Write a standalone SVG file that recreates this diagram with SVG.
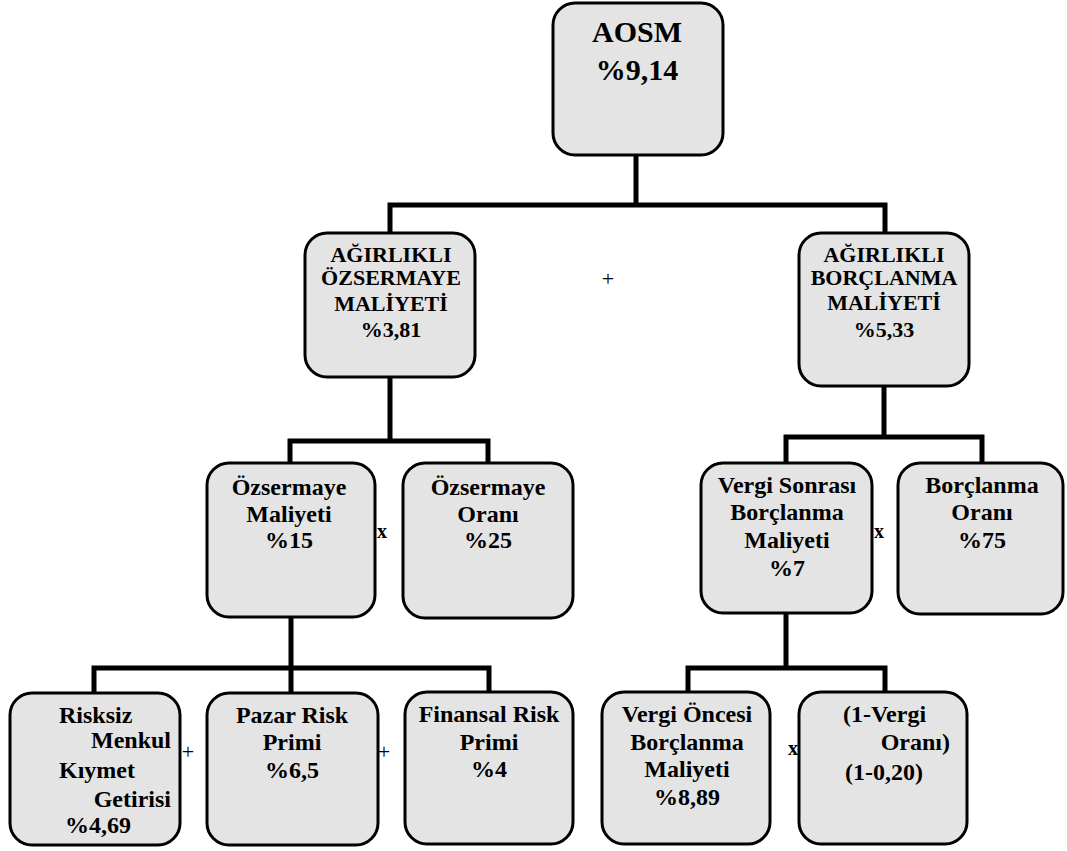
<svg xmlns="http://www.w3.org/2000/svg" width="1067" height="851" viewBox="0 0 1067 851">
<style>
.box{fill:#e4e4e4;stroke:#000;stroke-width:3}
.conn{fill:none;stroke:#000;stroke-width:5;stroke-linejoin:miter}
</style>
<rect width="1067" height="851" fill="#fff"/>
<g id="connectors">
<path class="conn" d="M636 155V205M390 233V205H885V233"/>
<path class="conn" d="M390 377V441M290 463V441H488V463"/>
<path class="conn" d="M884 386V437M786 463V437H982V463"/>
<path class="conn" d="M291 617V668M94 693V668H489V692M291 668V693"/>
<path class="conn" d="M786 613V668M688 692V668H885V692"/>
</g>
<g font-family="Liberation Serif, Times New Roman, serif" font-weight="bold" font-size="24" fill="#000" text-anchor="middle">
<g id="aosm">
<rect class="box" x="553" y="3" width="170" height="152" rx="22"/>
<text x="637" y="42" font-size="30">AOSM</text>
<text x="637" y="80" font-size="30">%9,14</text>
</g>
<g id="ozsermaye-agirlikli">
<rect class="box" x="305" y="233" width="170" height="144" rx="22"/>
<text x="391" y="262" font-size="22">AĞIRLIKLI</text>
<text x="391" y="285" font-size="22">ÖZSERMAYE</text>
<text x="391" y="311" font-size="22">MALİYETİ</text>
<text x="391" y="337" font-size="22">%3,81</text>
</g>
<g id="borclanma-agirlikli">
<rect class="box" x="799" y="233" width="170" height="153" rx="22"/>
<text x="884" y="262" font-size="22">AĞIRLIKLI</text>
<text x="884" y="285" font-size="22">BORÇLANMA</text>
<text x="884" y="310" font-size="22">MALİYETİ</text>
<text x="884" y="337" font-size="22">%5,33</text>
</g>
<text x="608" y="286" font-weight="normal" font-size="22">+</text>
<g id="ozsermaye-maliyeti">
<rect class="box" x="207" y="463" width="168" height="154" rx="22"/>
<text x="289" y="495">Özsermaye</text>
<text x="289" y="522">Maliyeti</text>
<text x="289" y="548">%15</text>
</g>
<text x="382" y="538" font-size="20">x</text>
<g id="ozsermaye-orani">
<rect class="box" x="403" y="463" width="170" height="155" rx="22"/>
<text x="488" y="495">Özsermaye</text>
<text x="488" y="522">Oranı</text>
<text x="488" y="548">%25</text>
</g>
<g id="vergi-sonrasi">
<rect class="box" x="701" y="463" width="171" height="150" rx="22"/>
<text x="787" y="493">Vergi Sonrası</text>
<text x="787" y="520">Borçlanma</text>
<text x="787" y="548">Maliyeti</text>
<text x="787" y="576">%7</text>
</g>
<text x="879" y="538" font-size="20">x</text>
<g id="borclanma-orani">
<rect class="box" x="898" y="463" width="165" height="151" rx="22"/>
<text x="982" y="493">Borçlanma</text>
<text x="982" y="520">Oranı</text>
<text x="982" y="548">%75</text>
</g>
<g id="risksiz">
<rect class="box" x="10" y="693" width="170" height="152" rx="22"/>
<text x="59" y="723" text-anchor="start">Risksiz</text>
<text x="171" y="748" text-anchor="end">Menkul</text>
<text x="59" y="778" text-anchor="start">Kıymet</text>
<text x="171" y="807" text-anchor="end">Getirisi</text>
<text x="65" y="833" text-anchor="start">%4,69</text>
</g>
<text x="188" y="759" font-weight="normal" font-size="22">+</text>
<g id="pazar-risk">
<rect class="box" x="207" y="693" width="171" height="152" rx="22"/>
<text x="292" y="723">Pazar Risk</text>
<text x="292" y="750">Primi</text>
<text x="292" y="778">%6,5</text>
</g>
<text x="384" y="759" font-weight="normal" font-size="22">+</text>
<g id="finansal-risk">
<rect class="box" x="405" y="692" width="168" height="152" rx="22"/>
<text x="489" y="722">Finansal Risk</text>
<text x="489" y="750">Primi</text>
<text x="489" y="777">%4</text>
</g>
<g id="vergi-oncesi">
<rect class="box" x="602" y="692" width="168" height="152" rx="22"/>
<text x="687" y="722">Vergi Öncesi</text>
<text x="687" y="750">Borçlanma</text>
<text x="687" y="777">Maliyeti</text>
<text x="687" y="805">%8,89</text>
</g>
<text x="793" y="755" font-size="20">x</text>
<g id="vergi-orani">
<rect class="box" x="799" y="692" width="168" height="152" rx="22"/>
<text x="843" y="722" text-anchor="start">(1-Vergi</text>
<text x="950" y="750" text-anchor="end">Oranı)</text>
<text x="884" y="780">(1-0,20)</text>
</g>
</g>
</svg>
